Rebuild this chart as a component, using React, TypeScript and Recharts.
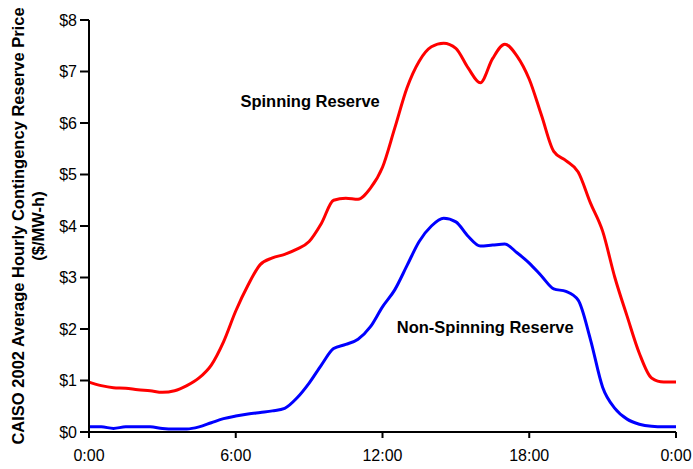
import React from 'react';
import { LineChart, Line, XAxis, YAxis, ReferenceDot, Label } from 'recharts';

// half-hourly averages, hour 0 .. 24
const hours = [
  0, 0.5, 1, 1.5, 2, 2.5, 3, 3.5, 4, 4.5, 5, 5.5, 6, 6.5, 7, 7.5, 8, 8.5, 9, 9.5,
  10, 10.5, 11, 11.5, 12, 12.5, 13, 13.5, 14, 14.5, 15, 15.5, 16, 16.5, 17, 17.5,
  18, 18.5, 19, 19.5, 20, 20.5, 21, 21.5, 22, 22.5, 23, 23.5, 24,
];

const spinning = [
  0.97, 0.9, 0.86, 0.85, 0.82, 0.8, 0.77, 0.8, 0.9, 1.05, 1.3, 1.75, 2.35, 2.85, 3.25, 3.38,
  3.45, 3.55, 3.7, 4.05, 4.5, 4.54, 4.52, 4.73, 5.14, 5.9, 6.68, 7.2, 7.48, 7.55, 7.45, 7.07,
  6.78, 7.25, 7.53, 7.3, 6.85, 6.15, 5.45, 5.27, 5.05, 4.45, 3.9, 3.0, 2.25, 1.53, 1.05, 0.97,
  0.97,
];

const nonSpinning = [
  0.1, 0.1, 0.07, 0.1, 0.1, 0.1, 0.07, 0.06, 0.06, 0.1, 0.18, 0.26, 0.31, 0.35, 0.38, 0.41,
  0.46, 0.66, 0.95, 1.3, 1.62, 1.7, 1.8, 2.04, 2.43, 2.76, 3.23, 3.7, 4.0, 4.15, 4.08, 3.8,
  3.61, 3.63, 3.65, 3.48, 3.28, 3.03, 2.78, 2.73, 2.56, 1.8, 0.87, 0.46, 0.25, 0.15, 0.11, 0.1,
  0.1,
];

const xTicks = [0, 6, 12, 18, 24];
const yTicks = [0, 1, 2, 3, 4, 5, 6, 7, 8];

const data = hours.map((h, i) => ({ hour: h, spin: spinning[i], nonSpin: nonSpinning[i] }));

const font = '"Liberation Sans", Arial, sans-serif';
const tickStyle = { fontSize: 16, fill: '#000', fontFamily: font };
const noteStyle = { fontSize: 16.5, fontWeight: 'bold', fill: '#000', fontFamily: font };

const YTitle = (props: any) => {
  const { viewBox } = props;
  const cy = viewBox.y + viewBox.height / 2;
  const x1 = viewBox.x + 24;
  const x2 = viewBox.x + 44;
  return (
    <g fontFamily={font} fontSize={16.5} fontWeight="bold" fill="#000">
      <text x={x1} y={cy} textAnchor="middle" transform={`rotate(-90 ${x1} ${cy})`}>
        CAISO 2002 Average Hourly Contingency Reserve Price
      </text>
      <text x={x2} y={cy} textAnchor="middle" transform={`rotate(-90 ${x2} ${cy})`}>
        ($/MW-h)
      </text>
    </g>
  );
};

export default function App() {
  return (
    <div style={{ position: 'absolute', left: 0, top: 0, width: 693, height: 469, background: '#fff' }}>
      <LineChart width={693} height={469} data={data} margin={{ top: 20, right: 17, bottom: 0, left: 0 }}>
        <XAxis
          dataKey="hour"
          type="number"
          domain={[0, 24]}
          ticks={xTicks}
          tickFormatter={(h: number) => `${h % 24}:00`}
          axisLine={{ stroke: '#000', strokeWidth: 2 }}
          tickLine={{ stroke: '#000', strokeWidth: 2 }}
          tickSize={6}
          tickMargin={12}
          tick={tickStyle}
          height={37}
        />
        <YAxis
          type="number"
          domain={[0, 8]}
          ticks={yTicks}
          tickFormatter={(v: number) => `$${v}`}
          axisLine={{ stroke: '#000', strokeWidth: 2 }}
          tickLine={{ stroke: '#000', strokeWidth: 2 }}
          tickSize={9}
          tickMargin={3}
          tick={tickStyle}
          width={89}
        >
          <Label content={YTitle} />
        </YAxis>
        <Line
          type="monotone"
          dataKey="spin"
          stroke="#ff0000"
          strokeWidth={3}
          dot={false}
          isAnimationActive={false}
        />
        <Line
          type="monotone"
          dataKey="nonSpin"
          stroke="#0000ff"
          strokeWidth={3}
          dot={false}
          isAnimationActive={false}
        />
        <ReferenceDot
          x={9.04}
          y={6.43}
          r={0}
          stroke="none"
          label={{ value: 'Spinning Reserve', position: 'center', ...noteStyle }}
        />
        <ReferenceDot
          x={16.2}
          y={2.04}
          r={0}
          stroke="none"
          label={{ value: 'Non-Spinning Reserve', position: 'center', ...noteStyle }}
        />
      </LineChart>
    </div>
  );
}
